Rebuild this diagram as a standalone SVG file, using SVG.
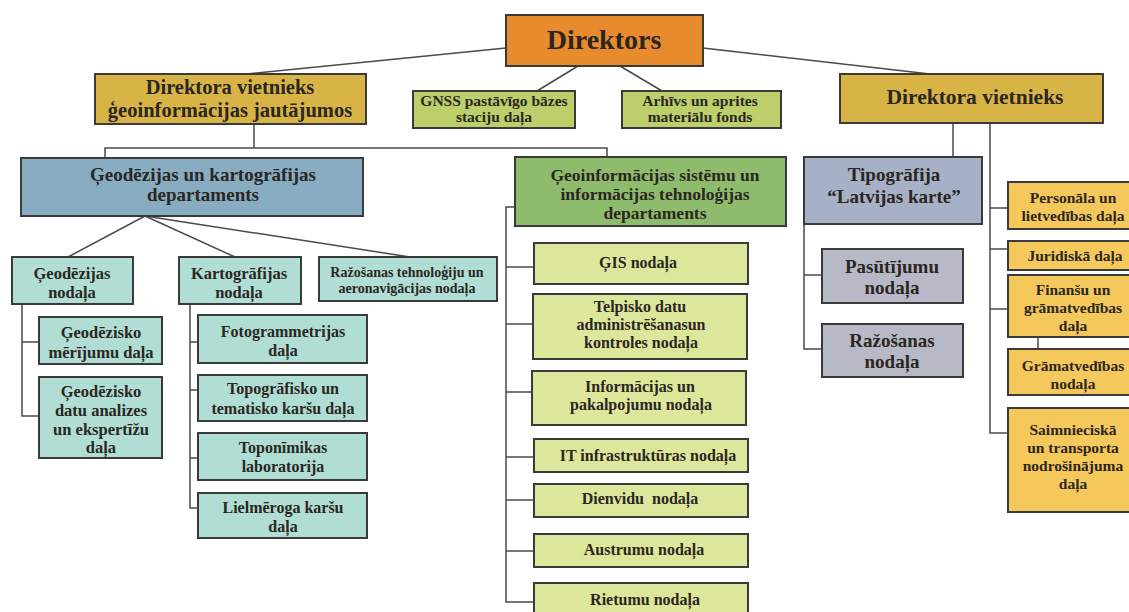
<svg xmlns="http://www.w3.org/2000/svg" width="1129" height="612" viewBox="0 0 1129 612">
<style>
rect{stroke:#3a3a3a;stroke-width:2}
text{font-family:"Liberation Serif","DejaVu Serif",serif;font-weight:bold;fill:#2b2622;text-anchor:middle}
.c line,.c polyline{stroke:#4a4a4a;stroke-width:1.5;fill:none}
.dir{fill:#e88b2c}
.dep{fill:#d8b447}
.olive{fill:#bccf6a}
.blue{fill:#88adc2}
.teal{fill:#b0ded4}
.green{fill:#8fbb6c}
.lime{fill:#dde79c}
.slate{fill:#a6b0c6}
.grey{fill:#b7bac6}
.yel{fill:#f5c85b}
</style>
<rect width="1129" height="612" fill="#ffffff" style="stroke:none"/>
<g class="c" id="connectors">
<line x1="506" y1="48" x2="246" y2="74"/>
<line x1="578" y1="66" x2="537" y2="91"/>
<line x1="620" y1="66" x2="662" y2="91"/>
<line x1="703" y1="48" x2="930" y2="74"/>
<line x1="254" y1="124" x2="254" y2="148"/>
<polyline points="105,158 105,148 607,148 607,158"/>
<line x1="145" y1="216" x2="68" y2="257"/>
<line x1="145" y1="216" x2="235" y2="257"/>
<line x1="145" y1="216" x2="410" y2="257"/>
<polyline points="22,304 22,416 39,416"/>
<line x1="22" y1="342" x2="39" y2="342"/>
<polyline points="190,304 190,508 198,508"/>
<line x1="190" y1="342" x2="198" y2="342"/>
<line x1="190" y1="390" x2="198" y2="390"/>
<line x1="190" y1="458" x2="198" y2="458"/>
<polyline points="515,207 506,207 506,602 534,602"/>
<line x1="506" y1="267" x2="534" y2="267"/>
<line x1="506" y1="324" x2="534" y2="324"/>
<line x1="506" y1="392" x2="532" y2="392"/>
<line x1="506" y1="457" x2="534" y2="457"/>
<line x1="506" y1="500" x2="534" y2="500"/>
<line x1="506" y1="551" x2="534" y2="551"/>
<line x1="953" y1="123" x2="953" y2="157"/>
<polyline points="990,123 990,433 1008,433"/>
<polyline points="804,224 804,349 822,349"/>
<line x1="804" y1="275" x2="822" y2="275"/>
<line x1="990" y1="208" x2="1008" y2="208"/>
<line x1="990" y1="249" x2="1008" y2="249"/>
<line x1="990" y1="309" x2="1008" y2="309"/>
<line x1="1038" y1="337" x2="1038" y2="349"/>
</g>
<g id="direktors"><rect class="dir" x="506" y="15" width="197" height="51"/><text x="604" y="49" font-size="28">Direktors</text></g>
<g id="vietnieks-geo"><rect class="dep" x="95" y="74" width="271" height="50"/><text x="230" y="94" font-size="20.5">Direktora vietnieks</text><text x="230" y="117" font-size="20.5">ģeoinformācijas jautājumos</text></g>
<g id="gnss"><rect class="olive" x="413" y="91" width="162" height="37"/><text x="494" y="106" font-size="15.5">GNSS pastāvīgo bāzes</text><text x="494" y="122" font-size="15.5">staciju daļa</text></g>
<g id="arhivs"><rect class="olive" x="622" y="91" width="159" height="37"/><text x="700" y="106" font-size="15.5">Arhīvs un aprites</text><text x="700" y="122" font-size="15.5">materiālu fonds</text></g>
<g id="vietnieks"><rect class="dep" x="840" y="74" width="263" height="49"/><text x="975" y="104" font-size="21.5">Direktora vietnieks</text></g>
<g id="geo-dep"><rect class="blue" x="21" y="158" width="342" height="58"/><text x="203" y="181" font-size="19">Ģeodēzijas un kartogrāfijas</text><text x="203" y="201" font-size="19">departaments</text></g>
<g id="geodezijas"><rect class="teal" x="12" y="257" width="121" height="47"/><text x="72" y="279" font-size="16.5">Ģeodēzijas</text><text x="72" y="298" font-size="16.5">nodaļa</text></g>
<g id="kartografijas"><rect class="teal" x="179" y="257" width="122" height="47"/><text x="239" y="279" font-size="16.5">Kartogrāfijas</text><text x="239" y="298" font-size="16.5">nodaļa</text></g>
<g id="razosanas-tech"><rect class="teal" x="319" y="257" width="178" height="44"/><text x="407" y="277" font-size="14">Ražošanas tehnoloģiju un</text><text x="407" y="293" font-size="14">aeronavigācijas nodaļa</text></g>
<g id="merijumu"><rect class="teal" x="39" y="317" width="123" height="47"/><text x="101" y="338" font-size="16.5">Ģeodēzisko</text><text x="101" y="358" font-size="16.5">mērījumu daļa</text></g>
<g id="datu-analizes"><rect class="teal" x="39" y="377" width="123" height="81"/><text x="101" y="397" font-size="16.5">Ģeodēzisko</text><text x="101" y="416" font-size="16.5">datu analizes</text><text x="101" y="435" font-size="16.5">un ekspertīžu</text><text x="101" y="453" font-size="16.5">daļa</text></g>
<g id="fotogrammetrijas"><rect class="teal" x="198" y="315" width="169" height="48"/><text x="283" y="337" font-size="16">Fotogrammetrijas</text><text x="283" y="356" font-size="16">daļa</text></g>
<g id="topografisko"><rect class="teal" x="198" y="375" width="169" height="46"/><text x="283" y="394" font-size="16">Topogrāfisko un</text><text x="283" y="414" font-size="16">tematisko karšu daļa</text></g>
<g id="toponimikas"><rect class="teal" x="198" y="433" width="169" height="47"/><text x="283" y="453" font-size="16">Toponīmikas</text><text x="283" y="472" font-size="16">laboratorija</text></g>
<g id="lielmeroga"><rect class="teal" x="198" y="493" width="169" height="45"/><text x="283" y="513" font-size="16">Lielmēroga karšu</text><text x="283" y="532" font-size="16">daļa</text></g>
<g id="gis-dep"><rect class="green" x="515" y="157" width="271" height="69"/><text x="655" y="181" font-size="17.5">Ģeoinformācijas sistēmu un</text><text x="655" y="200" font-size="17.5">informācijas tehnoloģijas</text><text x="655" y="219" font-size="17.5">departaments</text></g>
<g id="gis"><rect class="lime" x="534" y="243" width="214" height="41"/><text x="638" y="268" font-size="16">ĢIS nodaļa</text></g>
<g id="telpisko"><rect class="lime" x="533" y="294" width="214" height="65"/><text x="640" y="312" font-size="16">Telpisko datu</text><text x="641" y="330" font-size="16">administrēšanasun</text><text x="641" y="348" font-size="16">kontroles nodaļa</text></g>
<g id="informacijas"><rect class="lime" x="532" y="371" width="214" height="54"/><text x="640" y="392" font-size="16">Informācijas un</text><text x="641" y="410" font-size="16">pakalpojumu nodaļa</text></g>
<g id="it"><rect class="lime" x="534" y="439" width="214" height="33"/><text x="648" y="461" font-size="16">IT infrastruktūras nodaļa</text></g>
<g id="dienvidu"><rect class="lime" x="534" y="484" width="214" height="33"/><text x="640" y="504" font-size="16" xml:space="preserve">Dienvidu  nodaļa</text></g>
<g id="austrumu"><rect class="lime" x="534" y="534" width="214" height="33"/><text x="644" y="555" font-size="16">Austrumu nodaļa</text></g>
<g id="rietumu"><rect class="lime" x="534" y="583" width="214" height="33"/><text x="645" y="605" font-size="16">Rietumu nodaļa</text></g>
<g id="tipografija"><rect class="slate" x="804" y="157" width="178" height="67"/><text x="894" y="181" font-size="19">Tipogrāfija</text><text x="894" y="203" font-size="19">“Latvijas karte”</text></g>
<g id="pasutijumu"><rect class="grey" x="822" y="249" width="141" height="54"/><text x="892" y="273" font-size="19">Pasūtījumu</text><text x="892" y="294" font-size="19">nodaļa</text></g>
<g id="razosanas"><rect class="grey" x="822" y="324" width="141" height="53"/><text x="892" y="347" font-size="19">Ražošanas</text><text x="892" y="368" font-size="19">nodaļa</text></g>
<g id="personala"><rect class="yel" x="1008" y="182" width="130" height="47"/><text x="1073" y="203" font-size="15.5">Personāla un</text><text x="1073" y="221" font-size="15.5">lietvedības daļa</text></g>
<g id="juridiska"><rect class="yel" x="1008" y="241" width="130" height="29"/><text x="1075" y="261" font-size="15.5">Juridiskā daļa</text></g>
<g id="finansu"><rect class="yel" x="1008" y="275" width="130" height="62"/><text x="1073" y="295" font-size="15.5">Finanšu un</text><text x="1073" y="313" font-size="15.5">grāmatvedības</text><text x="1073" y="331" font-size="15.5">daļa</text></g>
<g id="gramatvedibas"><rect class="yel" x="1008" y="349" width="130" height="46"/><text x="1073" y="371" font-size="15.5">Grāmatvedības</text><text x="1073" y="389" font-size="15.5">nodaļa</text></g>
<g id="saimnieciska"><rect class="yel" x="1008" y="408" width="130" height="104"/><text x="1073" y="435" font-size="15.5">Saimnieciskā</text><text x="1073" y="453" font-size="15.5">un transporta</text><text x="1073" y="471" font-size="15.5">nodrošinājuma</text><text x="1073" y="489" font-size="15.5">daļa</text></g>
</svg>
